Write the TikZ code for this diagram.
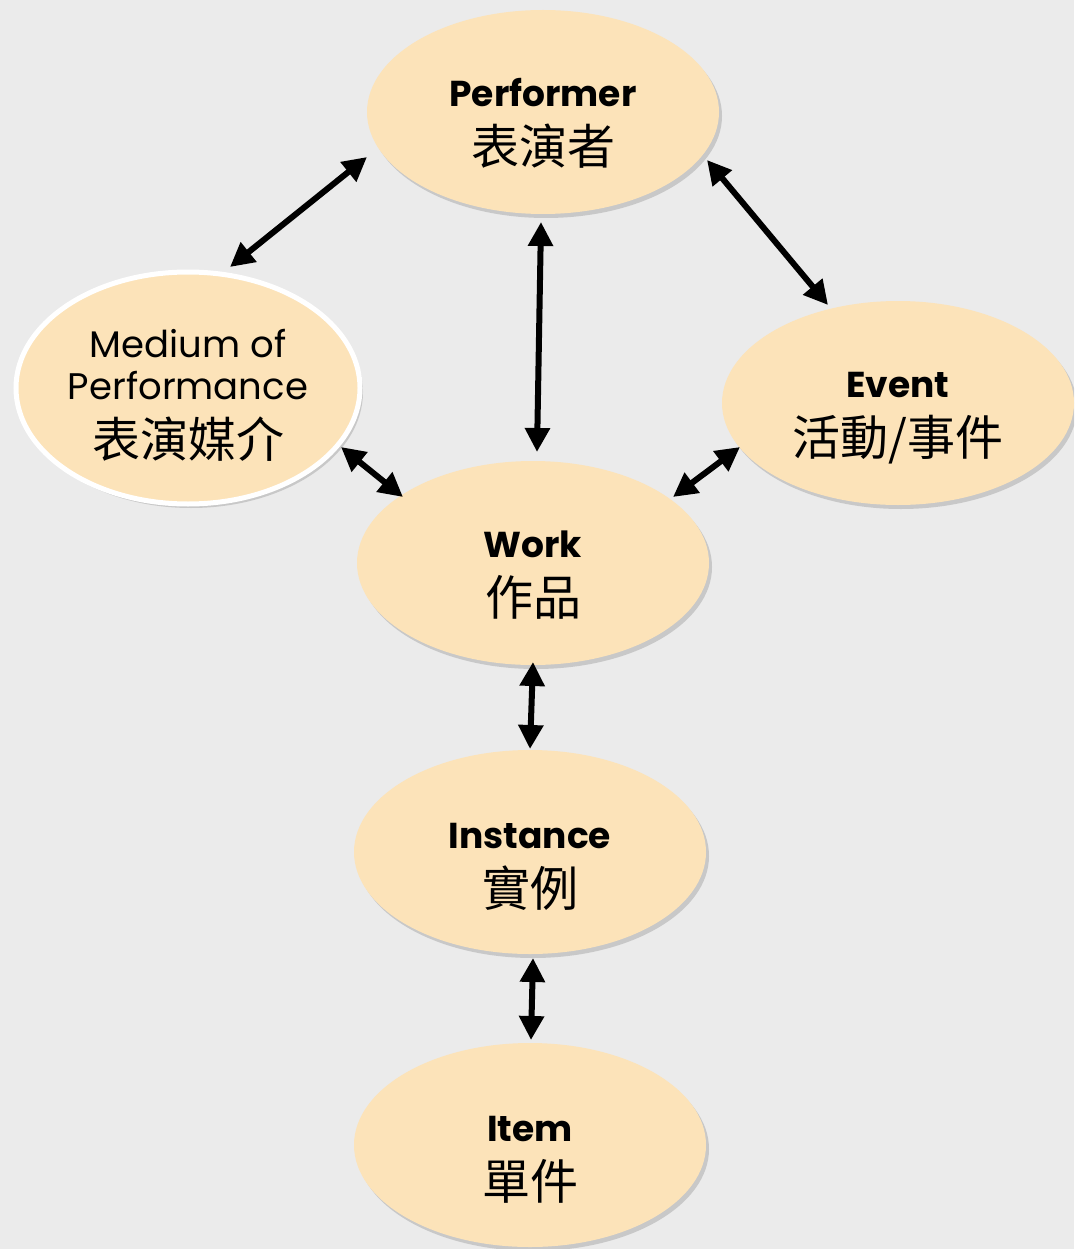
\documentclass[tikz,border=0pt]{standalone}
\usepackage{fontspec}
\setmainfont{Poppins}
\newfontfamily\cjk{Noto Sans CJK TC}
\usetikzlibrary{shapes.geometric,arrows.meta,calc,shadows}
\definecolor{bg}{HTML}{EBEBEB}
\definecolor{peach}{HTML}{FCE3B9}
\begin{document}
\begin{tikzpicture}[x=1pt,y=-1pt,
  ent/.style={ellipse, fill=peach, minimum width=352pt, minimum height=204pt, inner sep=0pt, align=center,
    font=\fontsize{36}{58}\selectfont,
    drop shadow={shadow xshift=3pt, shadow yshift=-4pt, opacity=0.22, fill=black!70}},
  arr/.style={line width=6pt, {Triangle[length=24pt,width=24pt]}-{Triangle[length=24pt,width=24pt]}},
]
\newcommand\zhtext[1]{{\cjk\fontsize{48}{58}\selectfont #1}}
\newcommand\toppad[1]{\rule{0pt}{#1}}
\fill[bg] (0,0) rectangle (1074,1249);
\useasboundingbox (0,0) rectangle (1074,1249);
\begin{scope}
\clip (0,0) rectangle (1074,1249);
\node[ent] (perf) at (543,112) {\toppad{51pt}\textbf{Performer}\\\zhtext{表演者}};
\node[ent, draw=white, line width=5pt, minimum width=344pt, minimum height=232pt,
  font=\fontsize{37}{42}\selectfont] (med) at (188,388)
  {\toppad{43pt}Medium of\\Performance\\[16pt]\zhtext{表演媒介}};
\node[ent] (event) at (898,403) {\toppad{55pt}\textbf{Event}\\\zhtext{活動/事件}};
\node[ent] (work) at (533,563) {\toppad{51pt}\textbf{Work}\\\zhtext{作品}};
\node[ent] (inst) at (530,852) {\toppad{55pt}\textbf{Instance}\\\zhtext{實例}};
\node[ent] (item) at (530,1145) {\toppad{55pt}\textbf{Item}\\\zhtext{單件}};
\end{scope}
\draw[arr] ($(perf.center)+(-176,45)$) -- ($(med.center)+(42,-121)$);
\draw[arr] ($(perf.center)+(-2,110)$) -- ($(work.center)+(4,-111)$);
\draw[arr] ($(perf.center)+(164,48)$) -- ($(event.center)+(-70,-98)$);
\draw[arr] ($(med.center)+(153,59)$) -- ($(work.center)+(-130,-66)$);
\draw[arr] ($(event.center)+(-158,44)$) -- ($(work.center)+(140,-66)$);
\draw[arr] ($(work.center)+(0,99)$) -- ($(inst.center)+(0,-103)$);
\draw[arr] ($(inst.center)+(3,106)$) -- ($(item.center)+(1,-105)$);
\end{tikzpicture}
\end{document}
